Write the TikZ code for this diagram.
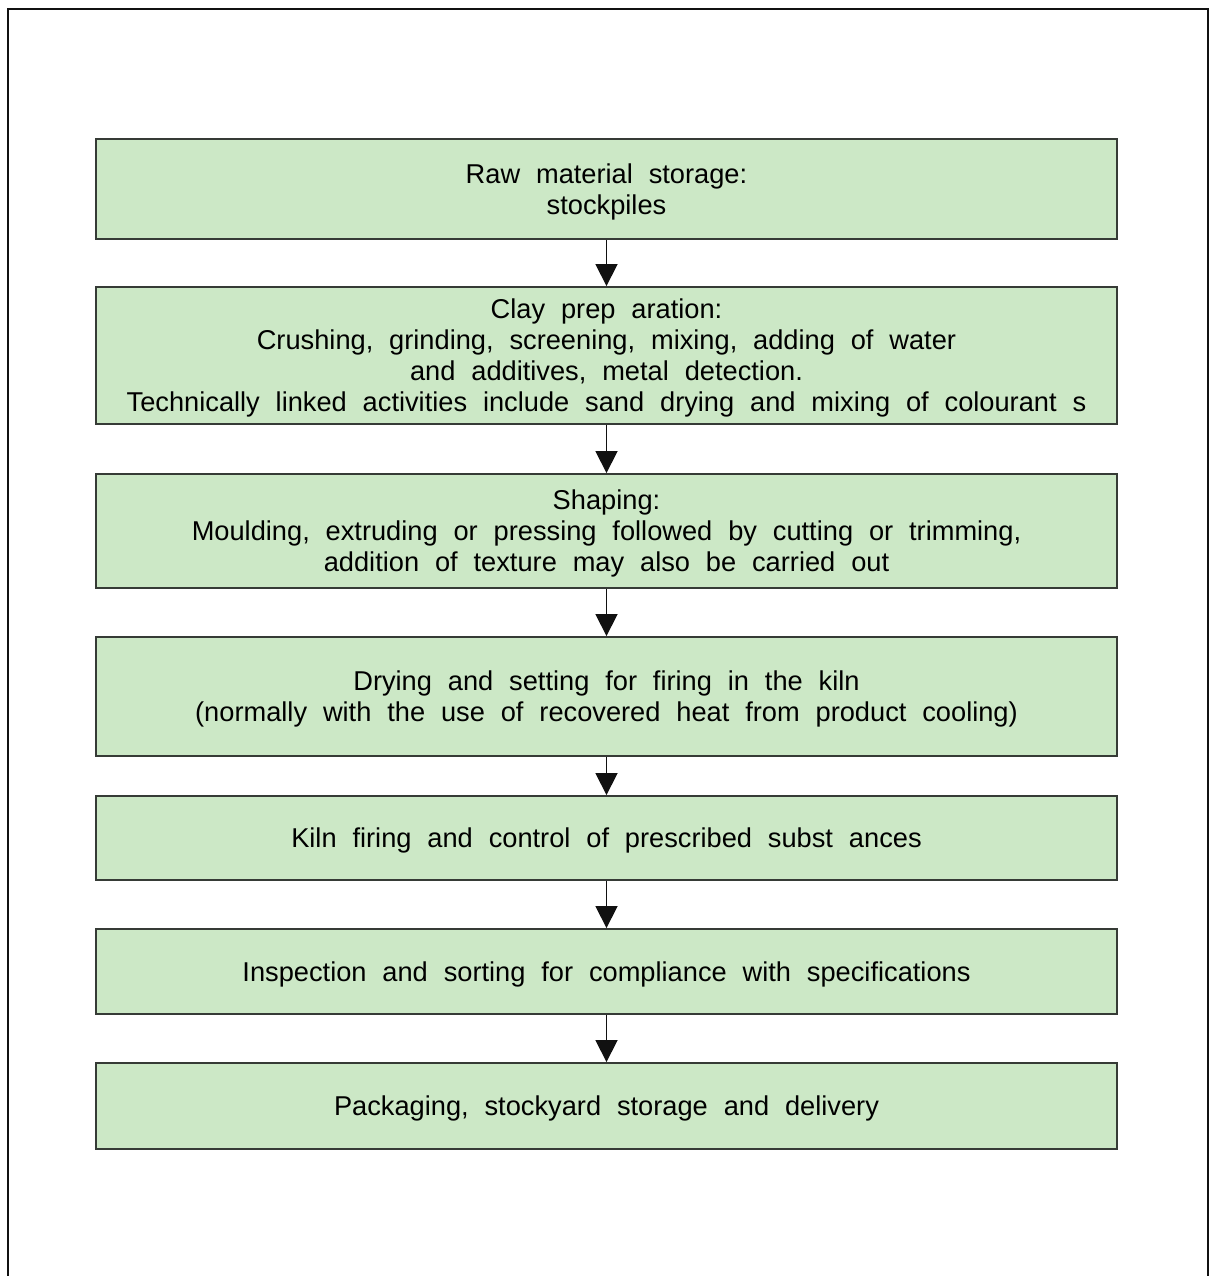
\documentclass[tikz,border=0pt]{standalone}
\usepackage{fontspec}
\setmainfont[WordSpace=2.1]{Liberation Sans}
\usetikzlibrary{arrows.meta}
\definecolor{ink}{HTML}{111111}
\definecolor{boxline}{HTML}{363B36}
\definecolor{claygreen}{HTML}{CCE8C6}
\begin{document}
\begin{tikzpicture}[
  x=0.02cm,y=-0.02cm,
  font=\fontsize{15.5}{17.6}\selectfont,
  stage/.style={draw=boxline,fill=claygreen,line width=1.1pt,minimum width=20.42cm,align=center,inner sep=0pt,text depth=-2.4pt},
  arr/.style={-{Triangle[length=4.4mm,width=4.4mm]},line width=1pt,draw=ink}
]
\useasboundingbox (0,0) rectangle (1211,1276);
% page frame
\draw[ink,line width=1pt] (8,1276) -- (8,9) -- (1208,9) -- (1208,1276);

% process stages
\node[stage,minimum height=2cm] (store) at (606.5,189) {Raw material storage:\\stockpiles};
\node[stage,minimum height=2.74cm] (prep) at (606.5,355.5) {Clay prep aration:\\Crushing, grinding, screening, mixing, adding of water\\and additives, metal detection.\\Technically linked activities include sand drying and mixing of colourant s};
\node[stage,minimum height=2.28cm] (shape) at (606.5,531) {Shaping:\\Moulding, extruding or pressing followed by cutting or trimming,\\addition of texture may also be carried out};
\node[stage,minimum height=2.38cm] (dry) at (606.5,696.5) {Drying and setting for firing in the kiln\\(normally with the use of recovered heat from product cooling)};
\node[stage,minimum height=1.68cm] (fire) at (606.5,838) {Kiln firing and control of prescribed subst ances};
\node[stage,minimum height=1.70cm] (sort) at (606.5,971.5) {Inspection and sorting for compliance with specifications};
\node[stage,minimum height=1.72cm] (pack) at (606.5,1106) {Packaging, stockyard storage and delivery};

\draw[arr] (store) -- (prep);
\draw[arr] (prep) -- (shape);
\draw[arr] (shape) -- (dry);
\draw[arr] (dry) -- (fire);
\draw[arr] (fire) -- (sort);
\draw[arr] (sort) -- (pack);
\end{tikzpicture}
\end{document}
